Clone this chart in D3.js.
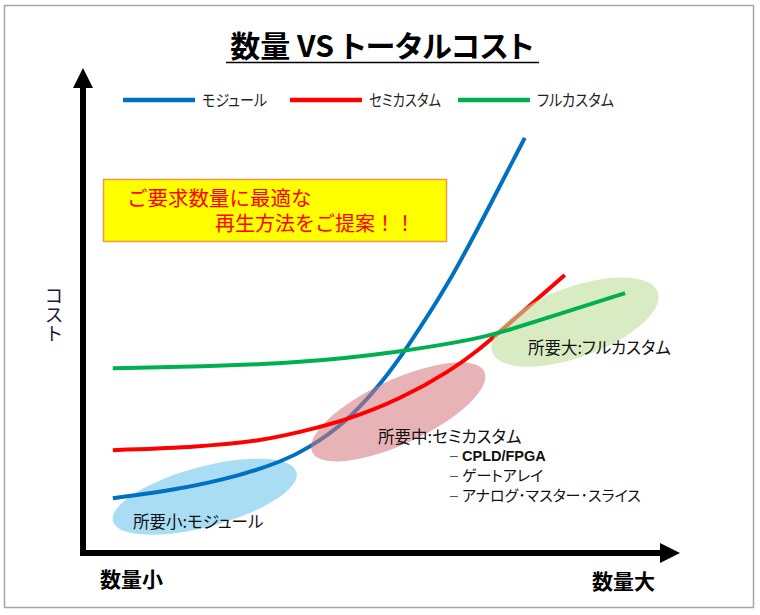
<!DOCTYPE html>
<html><head><meta charset="utf-8">
<script src="https://cdn.jsdelivr.net/npm/d3@7"></script>
<style>
body{margin:0;background:#fff;}
text{font-family:"Noto Sans CJK JP","Noto Sans",sans-serif;font-feature-settings:"palt";}
text.full{font-feature-settings:normal;}
</style></head>
<body><svg id="c" width="760" height="615"></svg>
<script>
// ---- data (x: 数量, y: コスト, arbitrary units 0..100) ----
const seriesNames = ["モジュール", "セミカスタム", "フルカスタム"];
const seriesColors = ["#0070c0", "#ff0000", "#00b050"];
const moduleX = [5.0, 15.7, 26.8, 33.5, 37.5, 44.2, 50.3, 53.9, 61.5, 68.2, 74.0];
const moduleY = [11.3, 13.0, 16.1, 19.0, 21.4, 27.0, 35.5, 41.6, 55.9, 71.8, 85.6];
const semiX = [5.0, 19.6, 29.6, 36.3, 44.2, 53.1, 61.5, 66.5, 69.8, 80.7];
const semiY = [21.2, 21.9, 23.1, 24.9, 27.4, 31.7, 37.5, 42.1, 45.6, 57.3];
const fullX = [5.0, 19.6, 36.3, 53.1, 66.5, 69.8, 80.4, 90.8];
const fullY = [38.1, 38.4, 39.2, 41.4, 44.3, 45.4, 49.5, 53.6];
// regions (centre in data units)
const regionNames = ["所要小:モジュール", "所要中:セミカスタム", "所要大:フルカスタム"];
const regionCX = [20.4, 52.8, 82.4];
const regionCY = [11.6, 29.1, 47.6];
const subItems = ["CPLD/FPGA", "ゲートアレイ", "アナログ･マスター･スライス"];
const axisLabels = ["数量小", "数量大", "コスト"];
const title = "数量 VS トータルコスト";
const calloutLines = ["ご要求数量に最適な", "再生方法をご提案！！"];

const svg = d3.select("#c");
const x = d3.scaleLinear().domain([0, 100]).range([83, 680]);
const y = d3.scaleLinear().domain([0, 100]).range([553, 68]);

// outer frame
svg.append("rect").attr("x", 4.5).attr("y", 5.5).attr("width", 749).attr("height", 602)
  .attr("fill", "#fff").attr("stroke", "#a6a6a6").attr("stroke-width", 1.5);

// title
svg.append("text").attr("x", 382).attr("y", 57).attr("text-anchor", "middle")
  .attr("font-size", 30).attr("font-weight", "bold").attr("fill", "#000").text(title);
svg.append("line").attr("x1", 226).attr("x2", 539).attr("y1", 62.5).attr("y2", 62.5)
  .attr("stroke", "#000").attr("stroke-width", 1.6);

// legend
const legX = [123, 290, 458];
const legW = [65, 72, 77];
seriesNames.forEach((n, i) => {
  svg.append("line").attr("x1", legX[i]).attr("x2", legX[i] + 72).attr("y1", 100).attr("y2", 100)
    .attr("stroke", seriesColors[i]).attr("stroke-width", 4.5);
  svg.append("text").attr("x", legX[i] + 79).attr("y", 106).attr("font-size", 16)
    .attr("textLength", legW[i]).attr("lengthAdjust", "spacingAndGlyphs")
    .attr("fill", "#222").text(n);
});

// callout box
svg.append("rect").attr("x", 103.5).attr("y", 179.5).attr("width", 343).attr("height", 62)
  .attr("fill", "#ffff00").attr("stroke", "#f79646").attr("stroke-width", 1.5);
svg.append("text").attr("class", "full").attr("x", 127).attr("y", 206).attr("font-size", 20.5).attr("fill", "#ff0000").text(calloutLines[0]);
svg.append("text").attr("class", "full").attr("x", 215).attr("y", 231).attr("font-size", 20).attr("fill", "#ff0000").text(calloutLines[1]);

const line = d3.line().x(d => x(d[0])).y(d => y(d[1])).curve(d3.curveBasis);
const series = [d3.zip(moduleX, moduleY), d3.zip(semiX, semiY), d3.zip(fullX, fullY)];

function ellipse(i, rx, ry, rot, fill, op) {
  svg.append("ellipse").attr("cx", 0).attr("cy", 0).attr("rx", rx).attr("ry", ry)
    .attr("transform", `translate(${x(regionCX[i])},${y(regionCY[i])}) rotate(${rot})`)
    .attr("fill", fill).attr("fill-opacity", op);
}
function curve(i) {
  svg.append("path").attr("d", line(series[i])).attr("fill", "none")
    .attr("stroke", seriesColors[i]).attr("stroke-width", 4).attr("stroke-linecap", "butt");
}
ellipse(0, 95, 30, -15, "#a3dbf3", 0.95);
curve(0);
ellipse(1, 95, 32, -25, "#d6757a", 0.55);
curve(1);
ellipse(2, 88, 35, -20, "#c0de9a", 0.6);
curve(2);

// region labels
svg.append("text").attr("x", 133).attr("y", 528).attr("font-size", 16.5).attr("fill", "#111").text(regionNames[0]);
svg.append("text").attr("x", 378).attr("y", 443).attr("font-size", 16.5).attr("fill", "#111").text(regionNames[1]);
svg.append("text").attr("x", 528).attr("y", 354).attr("font-size", 16.5).attr("fill", "#111").text(regionNames[2]);
subItems.forEach((s, i) => {
  const yy = 461 + i * 20;
  svg.append("text").attr("x", 450).attr("y", yy - 1).attr("font-size", 14).attr("fill", "#555")
    .style("font-family", "Liberation Sans").text("–");
  const t = svg.append("text").attr("x", 462).attr("y", yy).attr("fill", "#111").text(s)
    .style("font-family", "'Liberation Sans', 'Noto Sans CJK JP', sans-serif");
  if (i === 0) t.attr("font-size", 14.5).attr("font-weight", "bold");
  else t.attr("font-size", 15);
});

// axes with arrows
const x0 = x(0), y0 = y(0);
svg.append("line").attr("x1", x0).attr("x2", x0).attr("y1", y0 + 3).attr("y2", y(100) + 18)
  .attr("stroke", "#000").attr("stroke-width", 6);
svg.append("path").attr("d", `M${x0},${y(100)} L${x0 - 10},${y(100) + 20} L${x0 + 10},${y(100) + 20} Z`).attr("fill", "#000");
svg.append("line").attr("x1", x0 - 3).attr("x2", x(100) - 18).attr("y1", y0).attr("y2", y0)
  .attr("stroke", "#000").attr("stroke-width", 6);
svg.append("path").attr("d", `M${x(100)},${y0} L${x(100) - 20},${y0 - 10} L${x(100) - 20},${y0 + 10} Z`).attr("fill", "#000");

// axis labels
svg.append("text").attr("x", 100).attr("y", 587).attr("font-size", 21).attr("font-weight", "bold").attr("fill", "#000").text(axisLabels[0]);
svg.append("text").attr("x", 655).attr("y", 589).attr("text-anchor", "end").attr("font-size", 21).attr("font-weight", "bold").attr("fill", "#000").text(axisLabels[1]);
svg.append("text").attr("x", 54).attr("y", 286).attr("font-size", 19).attr("fill", "#1a1a3a")
  .style("writing-mode", "vertical-rl").style("font-feature-settings", "normal").text(axisLabels[2]);
</script></body></html>
